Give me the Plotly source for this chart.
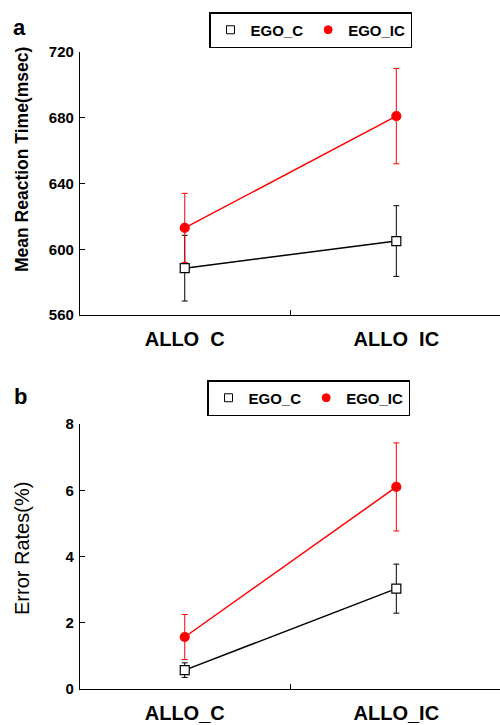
import plotly.graph_objects as go

FONT = "Arial, Liberation Sans, sans-serif"

# x categories (numeric positions 0,1 with tick labels)
cat_pos = [0, 1]
top_ticklabels = ["ALLO\u00a0\u00a0C", "ALLO\u00a0\u00a0IC"]
bot_ticklabels = ["ALLO_C", "ALLO_IC"]

# Panel a: mean reaction time (msec)
rt_ego_c = [588.5, 605.0]
rt_ego_c_err = [20.0, 21.5]
rt_ego_ic = [613.0, 681.0]
rt_ego_ic_err = [21.0, 29.0]

# Panel b: error rates (%)
er_ego_c = [0.57, 3.03]
er_ego_c_err = [0.22, 0.74]
er_ego_ic = [1.57, 6.10]
er_ego_ic_err = [0.68, 1.33]

series_names = ["EGO_C", "EGO_IC"]
y_titles = ["Mean Reaction Time(msec)", "Error Rates(%)"]
panel_labels = ["a", "b"]

fig = go.Figure()

def add_series(xa, ya, y, err, color, symbol, fill, name, legend):
    fig.add_trace(go.Scatter(
        x=cat_pos, y=y, xaxis=xa, yaxis=ya, mode="lines+markers",
        line=dict(color=color, width=1.5),
        marker=dict(symbol=symbol, size=9, color=fill,
                    line=dict(color=color, width=1.2)),
        error_y=dict(type="data", array=err, visible=True, color=color,
                     thickness=1, width=3),
        showlegend=False, name=name))
    fig.add_trace(go.Scatter(
        x=[None], y=[None], xaxis=xa, yaxis=ya, mode="markers",
        marker=dict(symbol=symbol, size=8, color=fill,
                    line=dict(color=color, width=1)),
        name=name, showlegend=True, legend=legend))

add_series("x", "y", rt_ego_c, rt_ego_c_err, "black", "square", "white", series_names[0], "legend")
add_series("x", "y", rt_ego_ic, rt_ego_ic_err, "red", "circle", "red", series_names[1], "legend")
add_series("x2", "y2", er_ego_c, er_ego_c_err, "black", "square", "white", series_names[0], "legend2")
add_series("x2", "y2", er_ego_ic, er_ego_ic_err, "red", "circle", "red", series_names[1], "legend2")

W, H = 500, 725
def py(pix):
    return (H - pix) / H

xcommon = dict(
    range=[-0.495, 1.49], showline=True, linecolor="black", linewidth=1.2,
    showgrid=False, zeroline=False, ticks="", tickvals=cat_pos, automargin=False,
    ticklabelstandoff=6,
    tickfont=dict(family=FONT, size=20, color="black", weight="bold"),
    minor=dict(tickvals=[0.5], ticks="inside", ticklen=5, tickcolor="black", tickwidth=1),
    domain=[80 / W, 1.0],
)
ycommon = dict(
    showline=True, linecolor="black", linewidth=1.2, showgrid=False, zeroline=False,
    ticks="inside", ticklen=5, tickcolor="black", tickwidth=1, automargin=False,
    ticklabelstandoff=2,
    tickfont=dict(family=FONT, size=15, color="black", weight="bold"),
)

legend_common = dict(orientation="h", xanchor="left", yanchor="top",
                     bordercolor="black", borderwidth=1.5, bgcolor="white",
                     font=dict(family=FONT, size=15, color="black", weight="bold"),
                     itemwidth=30, tracegroupgap=0)

fig.update_layout(
    width=W, height=H, margin=dict(l=0, r=0, t=0, b=0),
    plot_bgcolor="white", paper_bgcolor="white",
    xaxis=dict(**xcommon, ticktext=top_ticklabels, anchor="y"),
    yaxis=dict(**ycommon, range=[560, 720], tickvals=[560, 600, 640, 680, 720],
               domain=[py(315), py(52)], anchor="x"),
    xaxis2=dict(**xcommon, ticktext=bot_ticklabels, anchor="y2"),
    yaxis2=dict(**ycommon, range=[0, 8], tickvals=[0, 2, 4, 6, 8],
                domain=[py(689), py(424)], anchor="x2"),
    legend=dict(**legend_common, x=209 / W, y=py(12)),
    legend2=dict(**legend_common, x=207 / W, y=py(380)),
    annotations=[
        dict(text=panel_labels[0], x=19 / W, y=py(28), xref="paper", yref="paper",
             showarrow=False, xanchor="center", yanchor="middle",
             font=dict(family=FONT, size=22, color="black", weight="bold")),
        dict(text=panel_labels[1], x=20 / W, y=py(396), xref="paper", yref="paper",
             showarrow=False, xanchor="center", yanchor="middle",
             font=dict(family=FONT, size=22, color="black", weight="bold")),
        dict(text=y_titles[0], x=22 / W, y=py(160), xref="paper", yref="paper",
             showarrow=False, xanchor="center", yanchor="middle", textangle=-90,
             font=dict(family=FONT, size=17.5, color="black", weight="bold")),
        dict(text=y_titles[1], x=22 / W, y=py(549), xref="paper", yref="paper",
             showarrow=False, xanchor="center", yanchor="middle", textangle=-90,
             font=dict(family=FONT, size=20, color="black")),
    ],
)

fig.write_html("out.html", config={"displayModeBar": False},
               post_script="document.body.style.margin='0';")
